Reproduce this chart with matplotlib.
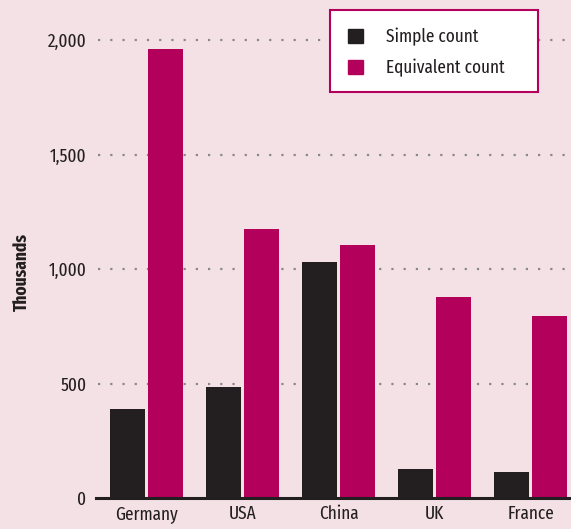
import matplotlib
matplotlib.use("Agg")
from matplotlib import pyplot as plt
from matplotlib.patches import Patch, Rectangle
import numpy as np

countries = ["Germany", "USA", "China", "UK", "France"]
simple_count = [390, 485, 1031, 127, 114]
equivalent_count = [1960, 1175, 1105, 878, 795]
yticks = [0, 500, 1000, 1500, 2000]
ytick_labels = ["0", "500", "1,000", "1,500", "2,000"]

bg = "#f4e1e6"
dark = "#231f20"
magenta = "#b3005a"

plt.rcParams['font.family'] = ['Fira Sans Extra Condensed', 'PT Sans Narrow', 'DejaVu Sans']
fs = 13.5
W, H = 571, 529

fig = plt.figure(figsize=(W / 100, H / 100), dpi=100, facecolor=bg)
ax = fig.add_axes([96 / W, 31 / H, 1 - 96 / W, 1 - 31 / H])
ax.set_facecolor(bg)

x = np.arange(len(countries))
w = 0.365
off = w / 2 + 0.016
ax.bar(x - off, simple_count, w, color=dark, zorder=3)
ax.bar(x + off, equivalent_count, w, color=magenta, zorder=3)

ax.set_xlim(-0.526, 4.42)
ax.set_ylim(0, 2175)
ax.set_yticks(yticks)
ax.set_yticklabels(ytick_labels)
ax.set_xticks(x)
ax.set_xticklabels(countries)
ax.tick_params(axis='both', length=0, labelsize=fs, colors=dark)
ax.tick_params(axis='y', pad=7)
ax.tick_params(axis='x', pad=5)

for t in yticks[1:]:
    ax.axhline(t, xmin=0.005, color="#888888", linestyle=(0, (1, 4.5)),
               linewidth=1.6, zorder=1)

for s in ['top', 'right', 'left']:
    ax.spines[s].set_visible(False)
ax.spines['bottom'].set_color(dark)
ax.spines['bottom'].set_linewidth(2.2)
ax.spines['bottom'].set_zorder(4)

fig.text(22 / W, 1 - 272 / H, "Thousands", rotation=90, fontsize=fs,
         fontweight='bold', color=dark, ha='center', va='center')

# legend box drawn separately (wider on the right than matplotlib's symmetric pad)
box = Rectangle((330 / W, 1 - 92 / H), 208 / W, 82 / H, transform=fig.transFigure,
                facecolor="white", edgecolor=magenta, linewidth=1.5,
                zorder=4.5, clip_on=False)
ax.add_patch(box)

handles = [Patch(color=dark, label="Simple count"),
           Patch(color=magenta, label="Equivalent count")]
leg = ax.legend(handles=handles, loc='upper left',
                bbox_to_anchor=(348 / W, 1 - 28 / H),
                bbox_transform=fig.transFigure,
                frameon=False, fontsize=fs,
                handlelength=0.8, handleheight=0.8, handletextpad=1.25,
                borderpad=0, labelspacing=0.68, borderaxespad=0)
for t in leg.get_texts():
    t.set_color(dark)

fig.savefig("out.png", dpi=100, facecolor=bg)
